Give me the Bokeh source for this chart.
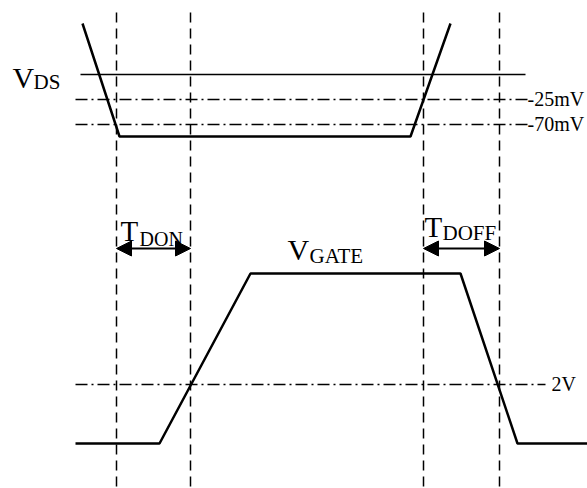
from bokeh.plotting import figure
from bokeh.models import Range1d, Arrow, NormalHead
from bokeh.core.properties import value
from bokeh.embed import file_html
from bokeh.resources import INLINE

# ---- data (pixel coordinates, y grows downward) ----
vds_x = [82, 119, 410, 450]
vds_y = [23, 136, 136, 23]
vref_x = [80, 525]
vref_y = [74, 74]
th25_x = [75, 528]
th25_y = [99, 99]
th70_x = [75, 528]
th70_y = [124, 124]
th2v_x = [75, 545]
th2v_y = [384, 384]
gate_x = [75, 159, 250, 460, 517, 590]
gate_y = [443, 443, 273, 273, 443, 443]
vlines_x = [116, 190, 423, 499]
vlines_top = 12
vlines_bot = 490
arrow_y = 248
arrows = [(116, 190), (423, 499)]

# labels: (text, x, baseline y, size in px)
labels = [
    ("V", 12, 87, 30), ("DS", 33, 88, 21),
    ("T", 120, 240, 29), ("DON", 139, 245, 20),
    ("V", 287, 259, 30), ("GATE", 309, 262, 21),
    ("T", 424, 236, 29), ("DOFF", 442, 239, 21),
    ("-25mV", 527, 105, 20), ("-70mV", 527, 130, 20),
    ("2V", 551, 390, 20),
]

W, H = 587, 488
p = figure(width=W, height=H, output_backend="svg", toolbar_location=None,
           x_range=Range1d(0, W), y_range=Range1d(H, 0),
           min_border=0)
p.axis.visible = False
p.grid.visible = False
p.outline_line_color = None
p.background_fill_color = "white"

# vertical dashed lines
for x in vlines_x:
    p.line([x, x], [vlines_top, vlines_bot], line_color="black",
           line_width=1.5, line_dash="10 6")

# dash-dot thresholds
for xs, ys in [(th25_x, th25_y), (th70_x, th70_y), (th2v_x, th2v_y)]:
    p.line(xs, ys, line_color="black", line_width=1.5, line_dash="12 4 2 4")

# reference solid line
p.line(vref_x, vref_y, line_color="black", line_width=1.6)

# waveforms
p.line(vds_x, vds_y, line_color="black", line_width=2.5)
p.line(gate_x, gate_y, line_color="black", line_width=2.5)

# double arrows
for x0, x1 in arrows:
    p.add_layout(Arrow(x_start=x0, y_start=arrow_y, x_end=x1, y_end=arrow_y,
                       line_width=2, line_color="black",
                       start=NormalHead(size=15, fill_color="black", line_color="black"),
                       end=NormalHead(size=15, fill_color="black", line_color="black")))

# text: Bokeh's "alphabetic" placement sits lower than a true baseline; compensate
for t, x, y, s in labels:
    p.text(x=[x], y=[y - 0.32 * s], text=[t], text_font=value("Liberation Serif"),
           text_font_size=f"{s}px", text_color="black",
           text_baseline="alphabetic", text_align="left")

open("out.html", "w").write(file_html(p, INLINE))
